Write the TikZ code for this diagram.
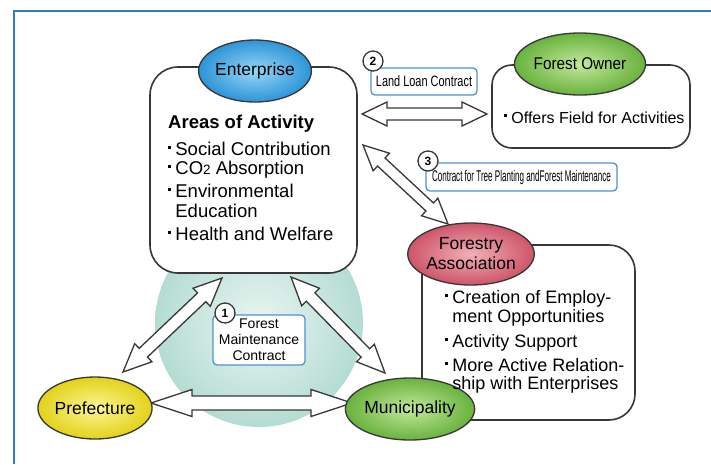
\documentclass[tikz,border=0pt]{standalone}
\usepackage{fontspec}
\setmainfont{Liberation Sans}
\newfontfamily\narrowA{Liberation Sans}[FakeStretch=0.73]
\newfontfamily\narrowB{Liberation Sans}[FakeStretch=0.52]
\newfontfamily\narrowC{Liberation Sans}[FakeStretch=0.9]
\usetikzlibrary{calc,shapes.geometric}
\definecolor{framec}{RGB}{50,120,195}
\definecolor{strokec}{RGB}{55,55,55}
\definecolor{labelc}{RGB}{80,145,205}
\definecolor{circin}{RGB}{234,245,241}
\definecolor{circout}{RGB}{180,220,211}
\definecolor{entin}{RGB}{150,215,245}
\definecolor{entout}{RGB}{45,148,215}
\definecolor{grnin}{RGB}{195,232,155}
\definecolor{grnout}{RGB}{105,178,62}
\definecolor{redin}{RGB}{242,175,185}
\definecolor{redout}{RGB}{205,85,105}
\definecolor{yelin}{RGB}{252,246,150}
\definecolor{yelout}{RGB}{226,210,25}
\newcommand\bul{\makebox[7.2pt][l]{\raisebox{6pt}{\rule{3pt}{3pt}}}}
\newcommand\hollowarrow[5]{%
  \path ($(#1)!#3!(#2)$) coordinate (ha) ($(#2)!#3!(#1)$) coordinate (hb);
  \draw[harrow] (#1) -- ($(ha)!#5!90:(#2)$) -- ($(ha)!#4!90:(#2)$)
    -- ($(hb)!#4!-90:(#1)$) -- ($(hb)!#5!-90:(#1)$) -- (#2)
    -- ($(hb)!#5!90:(#1)$) -- ($(hb)!#4!90:(#1)$)
    -- ($(ha)!#4!-90:(#2)$) -- ($(ha)!#5!-90:(#2)$) -- cycle;}
\begin{document}
\begin{tikzpicture}[x=1pt,y=-1pt,
  bigbox/.style={draw=strokec, line width=1.6pt, fill=white, inner sep=0pt},
  ell/.style={ellipse, draw=strokec, line width=1.3pt, minimum width=104pt, minimum height=62pt, inner sep=0pt, font=\fontsize{17.5}{21}\selectfont, align=center},
  harrow/.style={draw=strokec, line width=1.3pt, fill=white, line join=miter},
  lbox/.style={draw=labelc, line width=1.3pt, fill=white, rounded corners=4pt, inner sep=0pt},
  numc/.style={circle, draw=strokec, line width=1.3pt, fill=white, minimum size=20pt, inner sep=0pt, font=\fontsize{12}{12}\selectfont\bfseries},
  btxt/.style={anchor=base west, inner sep=0pt, font=\fontsize{18.5}{22}\selectfont},
  ftxt/.style={anchor=base west, inner sep=0pt, font=\fontsize{18}{22}\selectfont}]
\useasboundingbox (0,0) rectangle (711,464);
% frame
\draw[framec, line width=2pt] (14,464) -- (14,11) -- (711,11);
% background circle
\shade[inner color=circin, outer color=circout] (259,323) circle (104);
% boxes
\node[bigbox, rounded corners=28pt, minimum width=207pt, minimum height=206pt] (entbox) at (253.5,170) {};
\node[bigbox, rounded corners=20pt, minimum width=198pt, minimum height=83pt] (ownbox) at (591,106.5) {};
\node[bigbox, rounded corners=26pt, minimum width=213pt, minimum height=175pt] (forbox) at (528.5,332.5) {};
% arrow end points
\coordinate (e2a) at (362,114);
\coordinate (e2b) at (487,114);
\coordinate (e3a) at (363,145);
\coordinate (e3b) at (448,224);
\coordinate (e1a) at (222,278);
\coordinate (e1b) at (123,372);
\coordinate (e4a) at (291,277);
\coordinate (e4b) at (385,373);
\coordinate (e5a) at (151,403);
\coordinate (e5b) at (352,403);
\hollowarrow{e2a}{e2b}{25pt}{6pt}{12pt}
\hollowarrow{e3a}{e3b}{25pt}{5.5pt}{12pt}
\hollowarrow{e1a}{e1b}{28pt}{6pt}{12.5pt}
\hollowarrow{e4a}{e4b}{28pt}{6pt}{12.5pt}
\hollowarrow{e5a}{e5b}{41pt}{7pt}{13.5pt}
% ellipses
\node[ell, inner color=entin, outer color=entout] (ent) at (255,71) {Enterprise};
\node[ell, inner color=grnin, outer color=grnout, font=\fontsize{17}{21}\narrowC] (own) at (580,64) {Forest Owner};
\node[ell, inner color=redin, outer color=redout, font=\fontsize{17.5}{21}\selectfont] (fa) at (471,254) {Forestry\\[-1pt]Association};
\node[ell, inner color=grnin, outer color=grnout] (mun) at (410,409) {Municipality};
\node[ell, inner color=yelin, outer color=yelout] (pre) at (95,408) {Prefecture};
% enterprise texts
\node[btxt, font=\fontsize{18.5}{22}\selectfont\bfseries] (t1) at (168,128) {Areas of Activity};
\node[btxt] (t2) at (168,155) {\bul Social Contribution};
\node[btxt] (t3) at (168,174) {\bul CO{\fontsize{13.5}{14}\selectfont 2} Absorption};
\node[btxt] (t4) at (168,197) {\bul Environmental};
\node[btxt] (t5) at (175.2,217) {Education};
\node[btxt] (t6) at (168,240) {\bul Health and Welfare};
% forest owner text
\node[btxt, font=\fontsize{16}{20}\selectfont] (o1) at (504,123) {\bul Offers Field for Activities};
% forestry association texts
\node[ftxt] (f1) at (445,303) {\bul Creation of Employ-};
\node[ftxt] (f2) at (452.2,322) {ment Opportunities};
\node[ftxt] (f3) at (445,347) {\bul Activity Support};
\node[ftxt] (f4) at (445,371) {\bul More Active Relation-};
\node[ftxt] (f5) at (452.2,389) {ship with Enterprises};
% contract labels
\node[lbox, minimum width=106pt, minimum height=27pt, font=\fontsize{15}{18}\narrowA] (l2) at (424,81.5) {Land Loan Contract};
\node[numc] (n2) at (373,61) {2};
\node[lbox, minimum width=191pt, minimum height=28pt, font=\fontsize{15.5}{18}\narrowB] (l3) at (521.5,177) {Contract for Tree Planting andForest Maintenance};
\node[numc] (n3) at (428,161) {3};
\node[lbox, minimum width=92pt, minimum height=50pt, align=center, font=\fontsize{14}{16}\selectfont] (l1) at (259,340) {Forest\\Maintenance\\Contract};
\node[numc] (n1) at (225,313) {1};
\end{tikzpicture}
\end{document}
